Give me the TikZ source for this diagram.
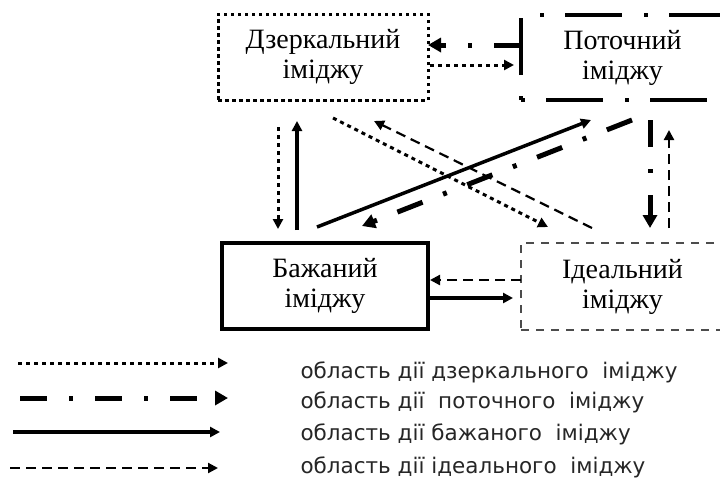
\documentclass[tikz,border=0pt]{standalone}
\usepackage{fontspec}
\setmainfont{Liberation Serif}
\newfontfamily\legfont{DejaVu Sans}
\usetikzlibrary{arrows.meta}
\begin{document}
\begin{tikzpicture}[x=1pt,y=-1pt,
  box/.style={rectangle, inner sep=0pt, outer sep=0pt, align=center,
    font=\fontsize{28}{30}\selectfont},
  dotln/.style={line width=3pt, dash pattern=on 4pt off 4pt},
  ddln/.style={line width=5pt, dash pattern=on 27pt off 22pt on 4pt off 22pt},
  solidln/.style={line width=3.5pt},
  dashln/.style={line width=2.2pt, dash pattern=on 10pt off 6pt},
  potborder/.style={line width=4pt, dash pattern=on 4pt off 21pt on 57pt off 22pt},
  tipA/.style={-{Triangle[length=10pt,width=10pt]}},
  tipB/.style={-{Triangle[length=13pt,width=14pt]}},
  leg/.style={anchor=base west, font=\legfont\fontsize{21.5}{24}\selectfont, text=black!85},
]
\useasboundingbox (0,0) rectangle (720,480);

% boxes
\node[box, draw, line width=3pt, dash pattern=on 3.5pt off 3.5pt,
      minimum width=210pt, minimum height=86pt] (dzer) at (323,57) {Дзеркальний\\іміджу};
\node[box, minimum width=203pt, minimum height=85pt] (pot) at (622.5,57.5) {Поточний\\іміджу};
\draw[potborder] (pot.south west) -- (pot.north west) -- (pot.north east);
\draw[potborder] (pot.south west) -- (pot.south east);
\node[box, draw, line width=4pt,
      minimum width=206pt, minimum height=86pt] (baz) at (325,286) {Бажаний\\іміджу};
\node[box, draw=black!70, line width=2pt, dash pattern=on 8pt off 7pt,
      minimum width=203pt, minimum height=87pt] (ide) at (622.5,286.5) {Ідеальний\\іміджу};

% horizontal connectors (top)
\draw[ddln, tipB] ([yshift=12.5pt]pot.west) -- ([yshift=12pt]dzer.east);
\draw[dotln, tipA, shorten <=2pt, shorten >=7pt] ([yshift=-8pt]dzer.east) -- ([yshift=-7.5pt]pot.west);
% verticals left
\draw[dotln, tipA, shorten <=27pt, shorten >=14pt] ([xshift=-45pt]dzer.south) -- ([xshift=-47pt]baz.north);
\draw[solidln, tipA, shorten <=13pt, shorten >=21pt] ([xshift=-28pt]baz.north) -- ([xshift=-26pt]dzer.south);
% diagonals
\draw[solidln, tipA] ([xshift=-8pt,yshift=16pt]baz.north) -- ([xshift=-31.5pt,yshift=-20pt]pot.south);
\draw[ddln, tipB] ([xshift=9.5pt,yshift=-20pt]pot.south) -- ([xshift=37pt,yshift=17pt]baz.north);
\draw[dotln, tipA] ([xshift=10pt,yshift=-18pt]dzer.south) -- ([xshift=-74.5pt,yshift=16pt]ide.north);
\draw[dashln, tipA] ([xshift=-30.5pt,yshift=15pt]ide.north) -- ([xshift=51pt,yshift=-21pt]dzer.south);
% verticals right
\draw[ddln, tipB] ([xshift=27.5pt,yshift=-20pt]pot.south) -- ([xshift=27.5pt,yshift=15pt]ide.north);
\draw[dashln, tipA] ([xshift=46.5pt,yshift=15pt]ide.north) -- ([xshift=46.5pt,yshift=-30pt]pot.south);
% horizontal connectors (bottom)
\draw[dashln, tipA, shorten >=2pt] ([yshift=6.5pt]ide.west) -- ([yshift=6pt]baz.east);
\draw[solidln, tipA, shorten >=8pt] ([yshift=-12pt]baz.east) -- ([yshift=-11.5pt]ide.west);

% legend
\coordinate (l1s) at (18,363);  \coordinate (l1e) at (228,363);
\coordinate (l2s) at (20,398);  \coordinate (l2e) at (228,398);
\coordinate (l3s) at (13,432);  \coordinate (l3e) at (220,432);
\coordinate (l4s) at (10,468);  \coordinate (l4e) at (218,468);
\draw[dotln, tipA] (l1s) -- (l1e);
\draw[ddln, tipB] (l2s) -- (l2e);
\draw[solidln, tipA] (l3s) -- (l3e);
\draw[dashln, tipA] (l4s) -- (l4e);
\node[leg] (t1) at (297,378) {область дії дзеркального~ іміджу};
\node[leg] (t2) at (297,408) {область дії~ поточного~ іміджу};
\node[leg] (t3) at (297,440) {область дії бажаного~ іміджу};
\node[leg] (t4) at (297,473) {область дії ідеального~ іміджу};
\end{tikzpicture}
\end{document}
